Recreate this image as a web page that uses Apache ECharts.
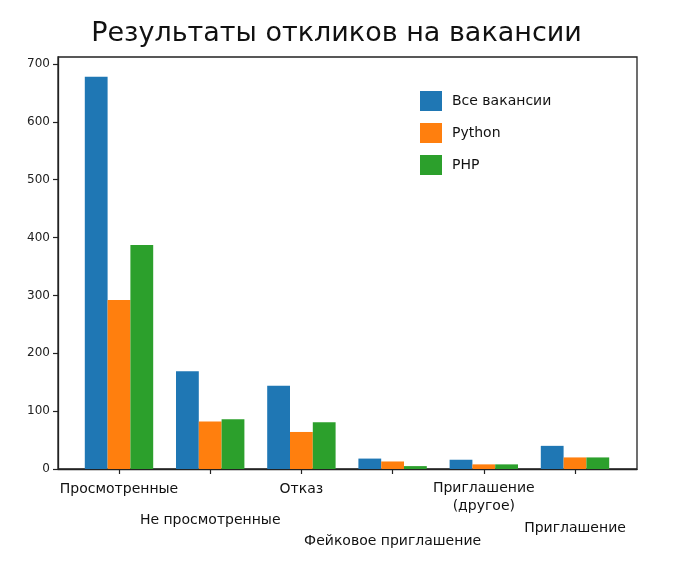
<!DOCTYPE html>
<html>
<head>
<meta charset="utf-8">
<script src="https://cdn.jsdelivr.net/npm/echarts@6/dist/echarts.min.js"></script>
<style>html,body{margin:0;padding:0;background:#fff}#c{width:673px;height:574px}</style>
</head>
<body>
<div id="c"></div>
<script>
var title = 'Результаты откликов на вакансии';
var categories = ['Просмотренные', 'Не просмотренные', 'Отказ', 'Фейковое приглашение', 'Приглашение\n(другое)', 'Приглашение'];
var seriesNames = ['Все вакансии', 'Python', 'PHP'];
var allValues = [678, 169, 144, 18, 16, 40];
var pythonValues = [292, 82, 64, 13, 8, 20];
var phpValues = [387, 86, 81, 5, 8, 20];
var yTicks = [0, 100, 200, 300, 400, 500, 600, 700];

var hand = '"Humor Sans", "xkcd Script", "Comic Sans MS", "DejaVu Sans", sans-serif';
var colors = ['#1f77b4', '#ff7f0e', '#2ca02c'];
var labelShift = [4, 35, 4, 56, 3, 43];

var rich = { t: { fontSize: 14, lineHeight: 18, fontFamily: hand, color: '#111', align: 'center' } };
labelShift.forEach(function (p, i) {
  rich['s' + i] = { fontSize: 1, lineHeight: p, height: p };
});
var valueSets = [allValues, pythonValues, phpValues];

var chart = echarts.init(document.getElementById('c'), null, { renderer: 'canvas' });
chart.setOption({
  animation: false,
  color: colors,
  title: {
    text: title, left: 'center', top: 15,
    textStyle: { fontFamily: hand, fontSize: 27, fontWeight: 'normal', color: '#111' }
  },
  legend: {
    orient: 'vertical', left: 420, top: 91, padding: 0,
    itemWidth: 22, itemHeight: 20, itemGap: 12,
    icon: 'rect',
    textStyle: { fontFamily: hand, fontSize: 14, color: '#111', padding: [0, 0, 0, 5] },
    data: seriesNames
  },
  grid: [
    { left: 58, right: 36, top: 57, bottom: 105, show: true, borderColor: '#222', borderWidth: 1.3, backgroundColor: 'transparent' },
    { left: 73.4, right: 52.4, top: 57, bottom: 105 }
  ],
  xAxis: [
    {
      gridIndex: 0, type: 'value', min: 0, max: 1,
      splitLine: { show: false }, axisTick: { show: false }, axisLabel: { show: false },
      axisLine: { show: true, onZero: false, lineStyle: { color: '#222', width: 1.3 } }
    },
    {
      gridIndex: 1, type: 'category', data: categories,
      axisLine: { show: false },
      axisTick: { show: true, alignWithLabel: true, interval: 0, length: 5, lineStyle: { color: '#222', width: 1.2 } },
      axisLabel: {
        interval: 0, margin: 7, rich: rich,
        formatter: function (v, i) {
          return '{s' + i + '| }\n' + v.split('\n').map(function (s) { return '{t|' + s + '}'; }).join('\n');
        }
      }
    }
  ],
  yAxis: [
    {
      gridIndex: 0, type: 'value', min: 0, max: 712,
      splitLine: { show: false },
      axisLine: { show: true, onZero: false, lineStyle: { color: '#222', width: 1.3 } },
      axisTick: { show: true, length: 5, customValues: yTicks, lineStyle: { color: '#222', width: 1.2 } },
      axisLabel: { customValues: yTicks, fontFamily: 'DejaVu Sans', fontSize: 12, color: '#222', margin: 8 }
    },
    { gridIndex: 1, type: 'value', min: 0, max: 712, show: false }
  ],
  series: valueSets.map(function (vals, k) {
    return {
      name: seriesNames[k], type: 'bar', data: vals,
      xAxisIndex: 1, yAxisIndex: 1,
      barWidth: 22.8, barGap: '0%',
      itemStyle: { color: colors[k] }
    };
  })
});
</script>
</body>
</html>
